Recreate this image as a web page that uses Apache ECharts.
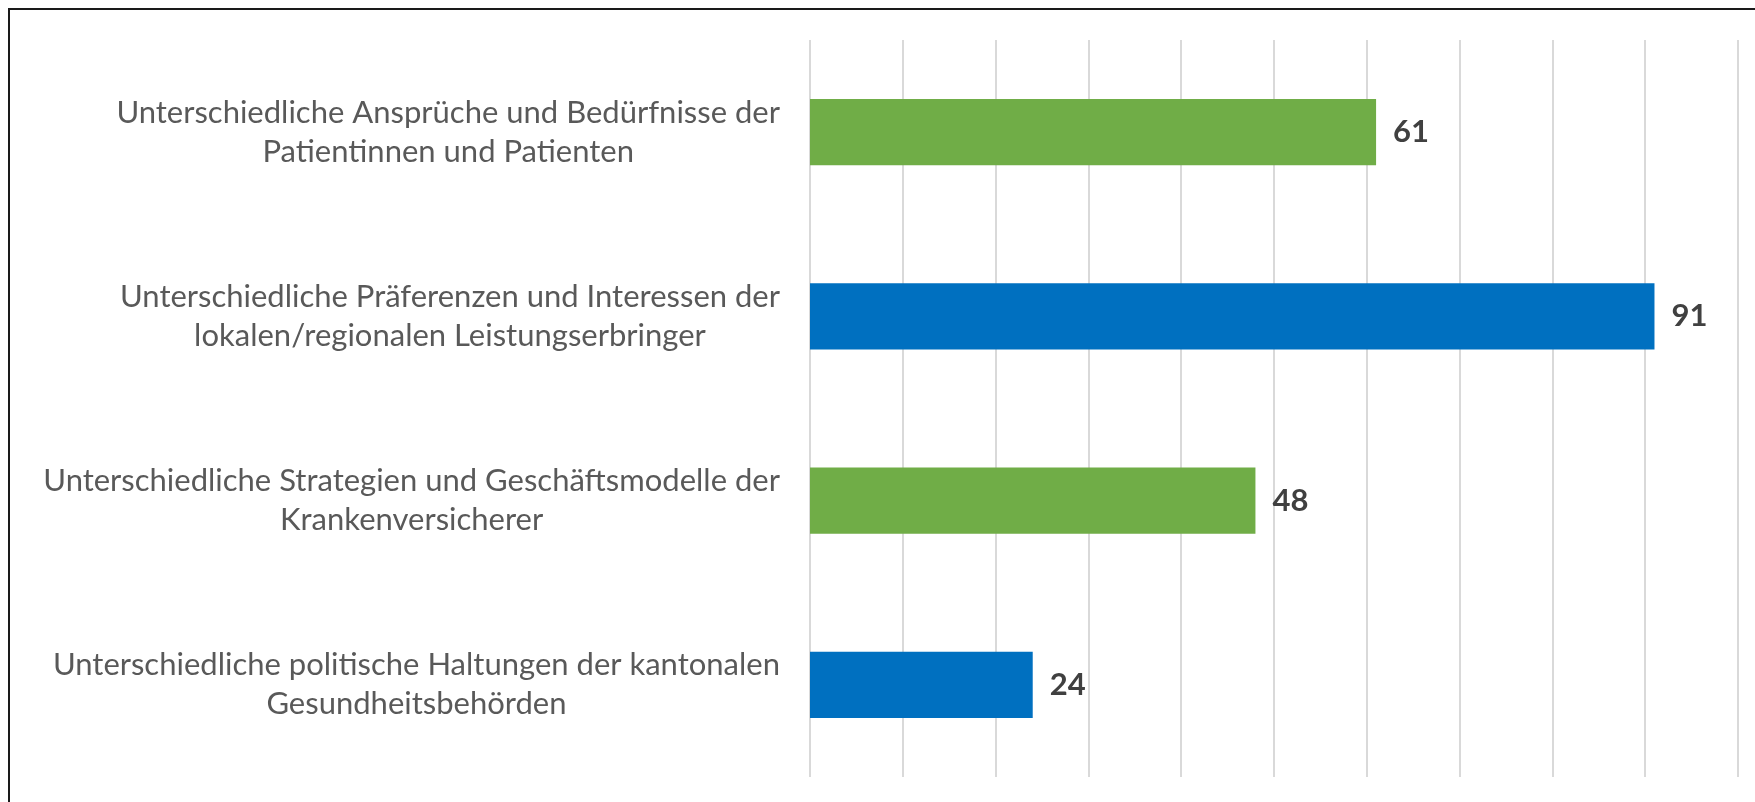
<!DOCTYPE html>
<html>
<head>
<meta charset="utf-8">
<script src="https://cdn.jsdelivr.net/npm/echarts@6/dist/echarts.min.js"></script>
<style>
html, body { margin: 0; padding: 0; background: #fff; }
#chart { width: 1755px; height: 802px; }
</style>
</head>
<body>
<div id="chart"></div>
<script>
// categories top to bottom, line breaks as in the picture
var categories = [
	'Unterschiedliche Ansprüche und Bedürfnisse der\nPatientinnen und Patienten',
	'Unterschiedliche Präferenzen und Interessen der\nlokalen/regionalen Leistungserbringer',
	'Unterschiedliche Strategien und Geschäftsmodelle der\nKrankenversicherer',
	'Unterschiedliche politische Haltungen der kantonalen\nGesundheitsbehörden'
];
var values = [61, 91, 48, 24];
var axisMin = 0;
var axisMax = 100;
var axisStep = 10;

var barColors = ['#70AD47', '#0070C0', '#70AD47', '#0070C0'];

function graphRender() {
	var myChart = echarts.init(document.getElementById('chart'));

	var options = {
		animation: false,
		grid: {
			left: 810,
			right: 17,
			top: 40,
			bottom: 25
		},
		graphic: [{
			// frame of the chart area, only top and left are in the picture
			type: 'rect',
			shape: { x: 9, y: 9, width: 2000, height: 2000 },
			style: { fill: 'none', stroke: '#1a1a1a', lineWidth: 2 },
			silent: true
		}],
		xAxis: {
			type: 'value',
			min: axisMin,
			max: axisMax,
			interval: axisStep,
			axisLabel: { show: false },
			axisLine: { show: false },
			axisTick: { show: false },
			splitLine: { lineStyle: { color: '#d9d9d9', width: 2 } }
		},
		yAxis: {
			type: 'category',
			inverse: true,
			data: categories,
			axisLine: { show: false },
			axisTick: { show: false },
			axisLabel: {
				align: 'right',
				margin: 30,
				formatter: function (value) {
					return value.split('\n').map(function (l) { return '{c|' + l + '}'; }).join('\n');
				},
				rich: {
					c: {
						align: 'center',
						fontFamily: 'Lato',
						fontSize: 31,
						color: '#595959',
						lineHeight: 39
					}
				}
			}
		},
		series: [{
			type: 'bar',
			data: values,
			barCategoryGap: '64%',
			itemStyle: {
				color: function (p) { return barColors[p.dataIndex]; }
			},
			label: {
				show: true,
				position: 'right',
				distance: 17,
				fontFamily: 'Lato',
				fontWeight: 'bold',
				fontSize: 31,
				color: '#404040'
			}
		}]
	};

	myChart.setOption(options);
}
graphRender();
</script>
</body>
</html>
